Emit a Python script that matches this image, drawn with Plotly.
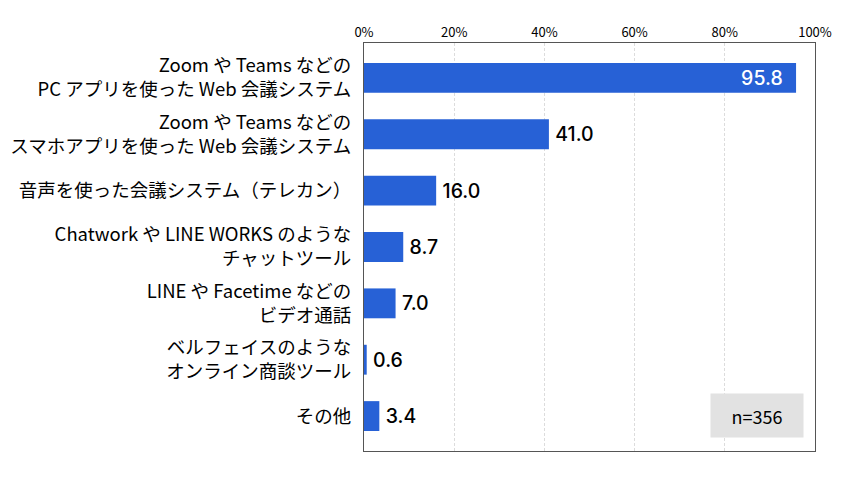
import plotly.graph_objects as go

categories = [
    "Zoom や Teams などの<br>PC アプリを使った Web 会議システム",
    "Zoom や Teams などの<br>スマホアプリを使った Web 会議システム",
    "音声を使った会議システム（テレカン）",
    "Chatwork や LINE WORKS のような<br>チャットツール",
    "LINE や Facetime などの<br>ビデオ通話",
    "ベルフェイスのような<br>オンライン商談ツール",
    "その他",
]
values = [95.8, 41.0, 16.0, 8.7, 7.0, 0.6, 3.4]
tick_vals = [0, 20, 40, 60, 80, 100]
tick_text = ["0%", "20%", "40%", "60%", "80%", "100%"]
sample_note = "n=356"

jp_font = "Noto Sans CJK JP"
num_font = "Inter"

positions = ["inside" if v > 80 else "outside" for v in values]
text_colors = ["white" if v > 80 else "black" for v in values]
labels = [f"{v:.1f}  " if v > 80 else f"\u2009{v:.1f}" for v in values]

fig = go.Figure(go.Bar(
    x=values,
    y=list(range(len(categories))),
    orientation="h",
    marker=dict(color="#2761D6", line=dict(width=0)),
    width=0.53,
    text=labels,
    textposition=positions,
    insidetextanchor="end",
    constraintext="none",
    textfont=dict(family=num_font, size=19.5, color=text_colors, weight=500),
    cliponaxis=False,
))

# page body adds an 8px offset; compensate so the plot area lands where the reference has it
fig.update_layout(
    width=835, height=475,
    margin=dict(l=356, r=28, t=35, b=32, autoexpand=False),
    paper_bgcolor="white",
    plot_bgcolor="white",
    showlegend=False,
    font=dict(family=jp_font, color="black"),
)

fig.update_xaxes(
    side="top",
    range=[0, 100],
    tickvals=tick_vals,
    ticktext=tick_text,
    tickfont=dict(size=13, color="black"),
    showgrid=True,
    gridcolor="#dcdcdc",
    griddash="3px,2px",
    gridwidth=1,
    zeroline=False,
    showline=True,
    linecolor="#555555",
    linewidth=1,
    mirror=True,
    ticks="",
    ticklabelstandoff=0,
    automargin=False,
)

fig.update_yaxes(
    tickvals=list(range(len(categories))),
    ticktext=categories,
    range=[6.62, -0.62],
    tickfont=dict(size=18.5, color="black", family=jp_font),
    showgrid=False,
    zeroline=False,
    showline=True,
    linecolor="#555555",
    linewidth=1,
    mirror=True,
    ticks="",
    ticklabelstandoff=8,
    automargin=False,
)

fig.add_annotation(
    xref="paper", yref="paper",
    x=0.871, y=0.087,
    xanchor="center", yanchor="middle",
    text=sample_note,
    showarrow=False,
    font=dict(size=18, color="black", family=jp_font),
    bgcolor="#e2e2e2",
    width=90, height=41,
    align="center",
    valign="middle",
)

fig.write_html("out.html")
